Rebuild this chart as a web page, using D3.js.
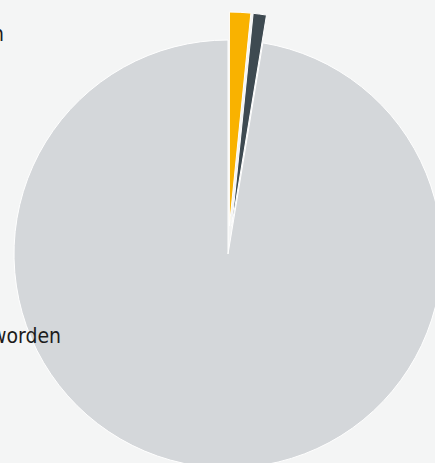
<!DOCTYPE html>
<html>
<head>
<meta charset="utf-8">
<script src="https://cdn.jsdelivr.net/npm/d3@7"></script>
<style>
  html, body { margin: 0; padding: 0; background: #f4f5f5; }
  svg { display: block; }
</style>
</head>
<body>
<svg id="chart" width="435" height="463"></svg>
<script>
// Answer categories and their shares (percent)
const categories = ["Ja, meerdere keren", "Ja, één keer", "Nee, nooit slachtoffer geworden"];
const values = [1.6, 1.0, 97.4];
// Which slices are pulled out of the pie
const sliced = [true, true, false];

// Styling
const colors = ["#f9b200", "#3e4a51", "#d4d7da"];
const width = 435, height = 463;
const cx = 228, cy = 254, radius = 214, slicedOffset = 28;

const svg = d3.select("#chart");
svg.append("rect").attr("width", width).attr("height", height).attr("fill", "#f4f5f5");

const data = categories.map((c, i) => ({ category: c, value: values[i], color: colors[i], sliced: sliced[i] }));

const pie = d3.pie().sort(null).value(d => d.value).startAngle(0).endAngle(2 * Math.PI);
const arc = d3.arc().innerRadius(0).outerRadius(radius);

const g = svg.append("g").attr("transform", `translate(${cx},${cy})`);

g.selectAll("path.slice")
  .data(pie(data))
  .join("path")
  .attr("class", "slice")
  .attr("d", arc)
  .attr("fill", d => d.data.color)
  .attr("stroke", "#ffffff")
  .attr("stroke-width", 1)
  .attr("stroke-linejoin", "round")
  .attr("transform", d => {
    if (!d.data.sliced) return null;
    const mid = (d.startAngle + d.endAngle) / 2;
    return `translate(${slicedOffset * Math.sin(mid)},${-slicedOffset * Math.cos(mid)})`;
  });

// Data labels (anchored at their right end, running off the left side)
const labelPos = [
  { x: 4, y: 41 },
  null,
  { x: 61, y: 343 }
];
svg.selectAll("text.label")
  .data(data.filter((d, i) => labelPos[i]).map(d => ({ d, p: labelPos[categories.indexOf(d.category)] })))
  .join("text")
  .attr("class", "label")
  .attr("x", o => o.p.x)
  .attr("y", o => o.p.y)
  .attr("text-anchor", "end")
  .attr("font-family", "'Liberation Sans Narrow', 'DejaVu Sans Condensed', 'Roboto', sans-serif")
  .attr("font-size", 21)
  .attr("fill", "#1c1c1c")
  .text(o => o.d.category);
</script>
</body>
</html>
